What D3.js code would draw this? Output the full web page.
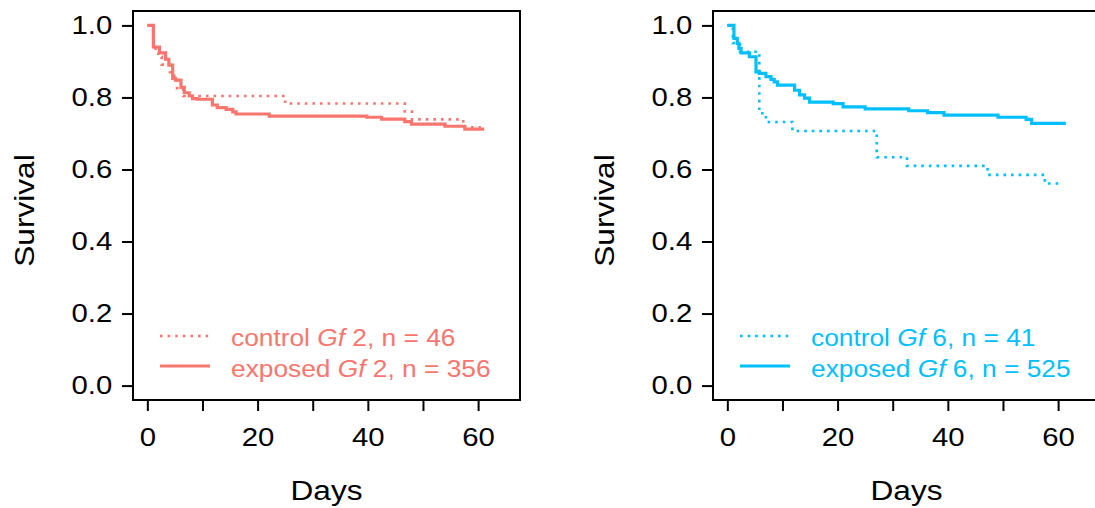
<!DOCTYPE html>
<html>
<head>
<meta charset="utf-8">
<script src="https://cdn.jsdelivr.net/npm/d3@7"></script>
<style>
	body { margin: 0; background: #fff; }
	svg { display: block; font-family: 'Liberation Sans', Arial, sans-serif; }
</style>
</head>
<body>
<svg id="chart"></svg>
<script>
// survival curves (days, survival proportion)
const controlGf2Days = [0, 1.1, 2.0, 2.6, 4.1, 4.9, 5.4, 6.5, 25.0, 46.7, 48.0, 57.3, 60.5];
const controlGf2Surv = [1.0, 0.935, 0.913, 0.891, 0.870, 0.848, 0.826, 0.804, 0.783, 0.761, 0.739, 0.717, 0.717];

const exposedGf2Days = [0, 1.1, 2.2, 3.3, 3.9, 4.6, 5.1, 6.1, 6.7, 7.6, 8.2, 9.1, 11.8, 12.7, 14.3, 15.5, 16.1, 22.1, 39.8, 42.5, 46.7, 47.9, 54.0, 57.6, 61.1];
const exposedGf2Surv = [1.0, 0.940, 0.924, 0.906, 0.890, 0.853, 0.848, 0.828, 0.813, 0.804, 0.797, 0.795, 0.779, 0.772, 0.767, 0.760, 0.754, 0.748, 0.745, 0.740, 0.733, 0.726, 0.720, 0.712, 0.712];

const controlGf6Days = [0, 1.0, 2.3, 5.8, 7.0, 11.8, 27.1, 32.6, 47.2, 57.6, 60.3];
const controlGf6Surv = [1.0, 0.951, 0.927, 0.756, 0.732, 0.707, 0.634, 0.610, 0.585, 0.561, 0.561];

const exposedGf6Days = [0, 1.2, 1.8, 2.1, 2.5, 4.0, 5.2, 5.8, 7.0, 7.9, 8.5, 9.1, 12.2, 13.1, 14.0, 14.9, 19.2, 21.0, 25.0, 32.9, 36.3, 39.3, 49.1, 54.2, 55.2, 61.4];
const exposedGf6Surv = [1.0, 0.964, 0.950, 0.936, 0.924, 0.913, 0.871, 0.867, 0.858, 0.850, 0.843, 0.834, 0.820, 0.807, 0.798, 0.787, 0.783, 0.774, 0.768, 0.763, 0.758, 0.751, 0.745, 0.739, 0.728, 0.728];

const xTicks = [0, 10, 20, 30, 40, 50, 60];
const xLabelled = [0, 20, 40, 60];
const yTicks = [0, 0.2, 0.4, 0.6, 0.8, 1.0];

const panels = [
	{ left: 133, color: '#F8766D', genotype: '2', nControl: 46, nExposed: 356,
		control: [controlGf2Days, controlGf2Surv], exposed: [exposedGf2Days, exposedGf2Surv] },
	{ left: 713, color: '#00BFFF', genotype: '6', nControl: 41, nExposed: 525,
		control: [controlGf6Days, controlGf6Surv], exposed: [exposedGf6Days, exposedGf6Surv] }
];

const width = 1095, height = 508;
const panelWidth = 387;
const plotTop = 11, plotBottom = 400;
// the original's lettering is a little wider than it is tall
const stretch = 1.15;

const svg = d3.select('#chart').attr('width', width).attr('height', height);

const y = d3.scaleLinear().domain([-0.04, 1.04]).range([plotBottom, plotTop]);

function zip(pair) {
	return pair[0].map((d, i) => ({ day: d, surv: pair[1][i] }));
}

panels.forEach(p => {
	const x = d3.scaleLinear().domain([-2.6, 67.6]).range([p.left, p.left + panelWidth]);
	const g = svg.append('g');

	const line = d3.line()
		.x(d => x(d.day))
		.y(d => y(d.surv))
		.curve(d3.curveStepAfter);

	g.append('path')
		.datum(zip(p.control))
		.attr('d', line)
		.attr('fill', 'none')
		.attr('stroke', p.color)
		.attr('stroke-width', 2.6)
		.attr('stroke-dasharray', '2.6,5');

	g.append('path')
		.datum(zip(p.exposed))
		.attr('d', line)
		.attr('fill', 'none')
		.attr('stroke', p.color)
		.attr('stroke-width', 3.2);

	// axes
	const xAxis = g.append('g')
		.attr('transform', `translate(0,${plotBottom})`)
		.call(d3.axisBottom(x).tickValues(xTicks).tickSize(11).tickPadding(17)
			.tickFormat(d => xLabelled.includes(d) ? d : ''));
	const yAxis = g.append('g')
		.attr('transform', `translate(${p.left},0)`)
		.call(d3.axisLeft(y).tickValues(yTicks).tickSize(11).tickPadding(7)
			.tickFormat(d3.format('.1f')));

	[xAxis, yAxis].forEach(a => {
		a.select('.domain').remove();
		a.selectAll('line').attr('stroke', '#000').attr('stroke-width', 2);
		a.selectAll('text')
			.attr('fill', '#000')
			.attr('transform', `scale(${stretch},1)`)
			.style('font-size', '25.5px');
	});

	g.append('rect')
		.attr('x', p.left)
		.attr('y', plotTop)
		.attr('width', panelWidth)
		.attr('height', plotBottom - plotTop)
		.attr('fill', 'none')
		.attr('stroke', '#000')
		.attr('stroke-width', 2);

	g.append('text')
		.attr('transform', `translate(${p.left + panelWidth / 2},500) scale(${stretch},1)`)
		.attr('text-anchor', 'middle')
		.style('font-size', '27.5px')
		.text('Days');

	g.append('text')
		.attr('transform', `translate(${p.left - 109},${(plotTop + plotBottom) / 2 + 5}) rotate(-90) scale(${stretch},1)`)
		.attr('text-anchor', 'middle')
		.attr('dy', '0.35em')
		.style('font-size', '27.5px')
		.text('Survival');

	// legend
	const legend = [
		{ label: 'control', n: p.nControl, dash: '2.6,5', w: 2.6, ly: 336, ty: 346 },
		{ label: 'exposed', n: p.nExposed, dash: null, w: 3.2, ly: 366, ty: 377 }
	];
	legend.forEach(l => {
		g.append('line')
			.attr('x1', p.left + 27).attr('x2', p.left + 77)
			.attr('y1', l.ly).attr('y2', l.ly)
			.attr('stroke', p.color)
			.attr('stroke-width', l.w)
			.attr('stroke-dasharray', l.dash);
		const t = g.append('text')
			.attr('transform', `translate(${p.left + 98},${l.ty}) scale(1.12,1)`)
			.attr('fill', p.color)
			.style('font-size', '23.5px');
		t.append('tspan').text(l.label + ' ');
		t.append('tspan').style('font-style', 'italic').text('Gf');
		t.append('tspan').text(`\u00a0${p.genotype}, n = ${l.n}`);
	});
});
</script>
</body>
</html>
